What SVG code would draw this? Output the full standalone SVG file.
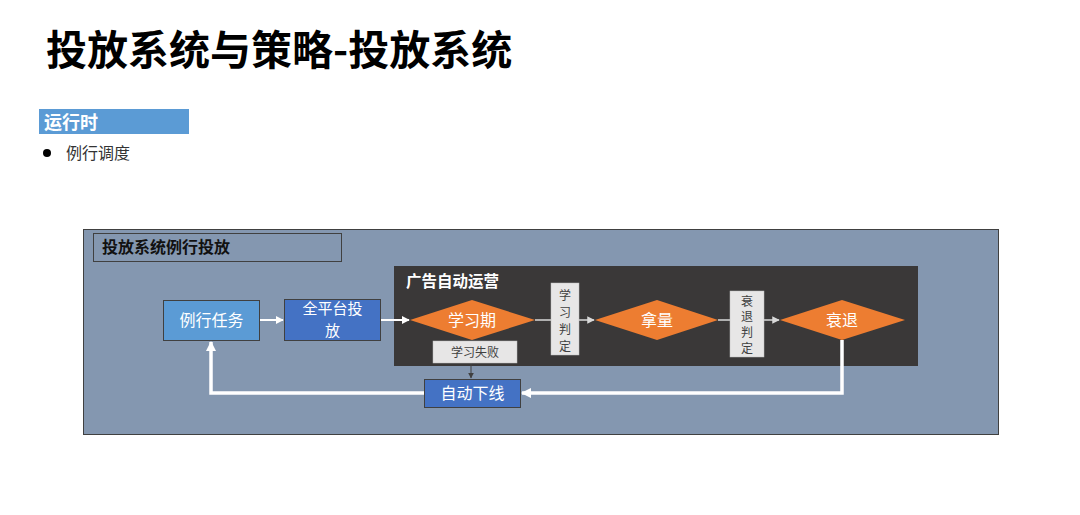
<svg xmlns="http://www.w3.org/2000/svg" width="1080" height="515" viewBox="0 0 1080 515">
<defs>
<style>
text{font-family:"Noto Sans CJK SC","Liberation Sans",sans-serif}
.w{fill:#fff}
.nodeT{font-size:16px;fill:#fff;text-anchor:middle}
.judge{fill:#E7E6E6;stroke:#BFBFBF;stroke-width:0.5}
.jt{font-size:12px;fill:#404040;text-anchor:middle}
.box{stroke:#404040;stroke-width:1}
.dia{fill:#ED7D31}
.thin{stroke:#fff;stroke-width:2;fill:none}
.gray{stroke:#D9D9D9;stroke-width:1.5;fill:none}
.thick{stroke:#fff;stroke-width:3.5;fill:none}
</style>
<marker id="aw" viewBox="0 0 10 10" refX="9" refY="5" markerWidth="4" markerHeight="4" orient="auto" markerUnits="strokeWidth"><path d="M0,0 L10,5 L0,10 z" fill="#fff"/></marker>
<marker id="ag" viewBox="0 0 10 10" refX="9" refY="5" markerWidth="5" markerHeight="5" orient="auto" markerUnits="strokeWidth"><path d="M0,0 L10,5 L0,10 z" fill="#D9D9D9"/></marker>
<marker id="ab" viewBox="0 0 10 10" refX="9" refY="5" markerWidth="3" markerHeight="3" orient="auto" markerUnits="strokeWidth"><path d="M0,0 L10,5 L0,10 z" fill="#fff"/></marker>
<marker id="ad" viewBox="0 0 10 10" refX="9" refY="5" markerWidth="6" markerHeight="6" orient="auto" markerUnits="strokeWidth"><path d="M0,0 L10,5 L0,10 z" fill="#404040"/></marker>
</defs>

<g id="title"><text x="46" y="65" font-size="41" font-weight="bold" fill="#000">投放系统与策略-投放系统</text></g>
<g id="section">
<rect x="39" y="109" width="150" height="25" fill="#5B9BD5"/>
<text x="44" y="129" font-size="18" font-weight="bold" class="w">运行时</text>
</g>
<g id="bullet">
<circle cx="47" cy="153" r="4" fill="#000"/>
<text x="66" y="159" font-size="16" fill="#333">例行调度</text>
</g>

<g id="panel">
<rect x="83.5" y="229.5" width="915" height="205" fill="#8497B0" stroke="#404040"/>
<rect x="93.5" y="233.5" width="248" height="28" fill="none" stroke="#404040"/>
<text x="102" y="253" font-size="16" font-weight="bold" fill="#111">投放系统例行投放</text>
</g>
<g id="auto-ops">
<rect x="394" y="266" width="524" height="100" fill="#3A3838"/>
<text x="406" y="287" font-size="15.5" font-weight="bold" class="w">广告自动运营</text>
</g>

<g id="connectors">
<line x1="259" y1="320" x2="283" y2="320" class="thin" marker-end="url(#aw)"/>
<line x1="380" y1="320" x2="409" y2="320" class="thin" marker-end="url(#aw)"/>
<line x1="535" y1="320" x2="551" y2="320" class="gray"/>
<line x1="579" y1="320" x2="594" y2="320" class="gray" marker-end="url(#ag)"/>
<line x1="718" y1="320" x2="730" y2="320" class="gray"/>
<line x1="764" y1="320" x2="779" y2="320" class="gray" marker-end="url(#ag)"/>
<polyline points="842,340 842,393 522,393" class="thick" marker-end="url(#ab)"/>
<polyline points="424,393 211,393 211,342" class="thick" marker-end="url(#ab)"/>
<line x1="471" y1="363" x2="471" y2="378" stroke="#404040" stroke-width="1" marker-end="url(#ad)"/>
</g>

<g id="n-task">
<rect x="163.5" y="300.5" width="96" height="40" fill="#5B9BD5" class="box"/>
<text x="211.5" y="326" class="nodeT">例行任务</text>
</g>
<g id="n-deliver">
<rect x="284.5" y="299.5" width="96" height="41" fill="#4472C4" class="box"/>
<text class="nodeT" font-size="15" style="font-size:15px"><tspan x="332.5" y="314">全平台投</tspan><tspan x="332.5" y="336">放</tspan></text>
</g>
<g id="n-learn">
<polygon points="410,320 472,300 535,320 472,340" class="dia"/>
<text x="472" y="326" class="nodeT">学习期</text>
</g>
<g id="n-learn-judge">
<rect x="551" y="283" width="28" height="72" class="judge"/>
<text x="565" y="300" class="jt">学</text>
<text x="565" y="317" class="jt">习</text>
<text x="565" y="334" class="jt">判</text>
<text x="565" y="351" class="jt">定</text>
</g>
<g id="n-volume">
<polygon points="595,320 657,300 718,320 657,340" class="dia"/>
<text x="657" y="326" class="nodeT">拿量</text>
</g>
<g id="n-decline-judge">
<rect x="730" y="291" width="34" height="66" class="judge"/>
<text x="747" y="306" class="jt" font-size="11">衰</text>
<text x="747" y="321" class="jt" font-size="11">退</text>
<text x="747" y="337" class="jt" font-size="11">判</text>
<text x="747" y="353" class="jt" font-size="11">定</text>
</g>
<g id="n-decline">
<polygon points="780,320 842,300 905,320 842,340" class="dia"/>
<text x="842" y="326" class="nodeT">衰退</text>
</g>
<g id="n-fail">
<rect x="433" y="341" width="84" height="22" class="judge"/>
<text x="475" y="357" class="jt" font-size="14">学习失败</text>
</g>
<g id="n-offline">
<rect x="424.5" y="379.5" width="96" height="28" fill="#4472C4" class="box"/>
<text x="472.5" y="399" class="nodeT">自动下线</text>
</g>
</svg>
